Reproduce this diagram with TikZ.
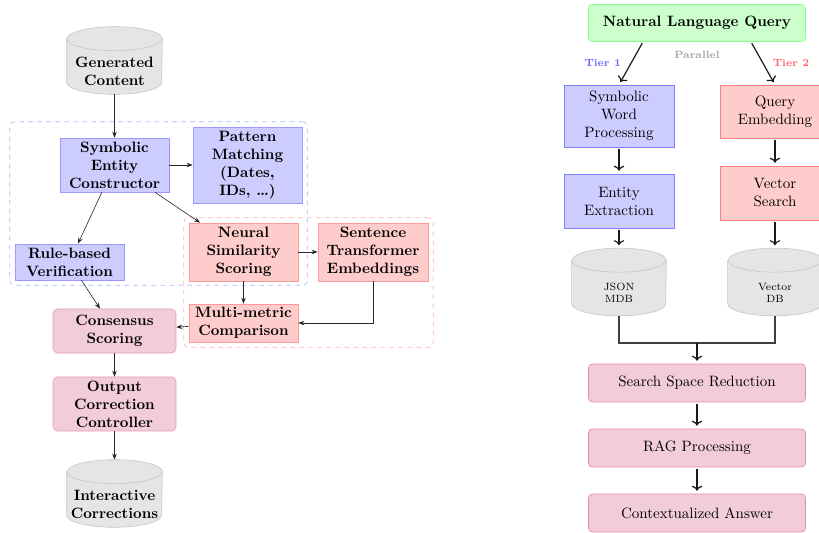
\documentclass[tikz,border=0pt]{standalone}
\usetikzlibrary{shapes.geometric,arrows.meta,fit}
\newcommand{\dbcyl}[5]{% name, position, half width, font, text, offset fixed via style
  \node[cylbox, minimum width=2*#3] (#1) at #2 {};
  \path[fill=gray!20, draw=gray!45]
    ([yshift=-8pt]#1.north west) -- ([yshift=8pt]#1.south west)
    arc[start angle=180, end angle=360, x radius=#3, y radius=8pt]
    -- ([yshift=-8pt]#1.north east)
    arc[start angle=0, end angle=180, x radius=#3, y radius=8pt] -- cycle;
  \draw[gray!45] ([yshift=-8pt]#1.north west)
    arc[start angle=180, end angle=360, x radius=#3, y radius=8pt];
  \node[font=#4, align=center, inner sep=0pt] (#1-t) at ([yshift=-7pt]#1.center) {#5};
}
\begin{document}
\begin{tikzpicture}[x=0.6667pt,y=-0.6667pt,
  lblue/.style={draw=blue!40, fill=blue!20, font=\bfseries, align=center, inner sep=0pt},
  lred/.style={draw=red!40, fill=red!20, font=\bfseries, align=center, inner sep=0pt},
  lpink/.style={draw=purple!40, fill=purple!20, rounded corners=3pt, font=\bfseries, align=center, inner sep=0pt},
  cylbox/.style={inner sep=0pt, minimum height=44.7pt},
  rblue/.style={draw=blue!50, fill=blue!20, align=center, inner sep=0pt, minimum width=73.3pt},
  rred/.style={draw=red!50, fill=red!20, align=center, inner sep=0pt, minimum width=73.3pt},
  rpink/.style={draw=purple!45, fill=purple!20, rounded corners=2.5pt, align=center, inner sep=0pt, minimum width=144.7pt, minimum height=25.3pt},
  arr/.style={-{Stealth[length=4pt,width=3pt]}, black!85},
  rarr/.style={->, thick, black!90, shorten <=1pt, shorten >=2pt},
  grp/.style={dashed, rounded corners=3pt, inner sep=3.3pt}
]
\useasboundingbox (0,0) rectangle (819,533);
% ---------------- left diagram ----------------
\dbcyl{gen}{(114.5,60.5)}{31.65pt}{\bfseries}{Generated\\Content}
\node[lblue, minimum width=72.7pt, minimum height=36pt] (sec) at (114.5,165) {Symbolic\\Entity\\Constructor};
\node[lblue, minimum width=72.7pt, minimum height=50.7pt] (pm) at (247.5,165) {Pattern\\Matching\\(Dates,\\IDs, \dots)};
\node[lblue, minimum width=72.7pt, minimum height=24pt] (rbv) at (69.5,262) {Rule-based\\Verification};
\node[lred, minimum width=72.7pt, minimum height=38.7pt] (nss) at (243.5,252) {Neural\\Similarity\\Scoring};
\node[lred, minimum width=73.3pt, minimum height=38.7pt] (ste) at (373,252) {Sentence\\Transformer\\Embeddings};
\node[lred, minimum width=72.7pt, minimum height=25.3pt] (mmc) at (243.5,323) {Multi-metric\\Comparison};
\node[lpink, minimum width=82pt, minimum height=29.3pt] (cs) at (114.5,331) {Consensus\\Scoring};
\node[lpink, minimum width=82pt, minimum height=36pt] (occ) at (114.5,404) {Output\\Correction\\Controller};
\dbcyl{ic}{(114.5,493.5)}{31.65pt}{\bfseries}{Interactive\\Corrections}
\node[grp, draw=blue!30, fit=(sec)(pm)(rbv)] (gblue) {};
\node[grp, draw=red!30, fit=(nss)(ste)(mmc)] (gred) {};
\draw[arr] (gen) -- (sec);
\draw[arr] (sec) -- (pm);
\draw[arr] (sec) -- (rbv);
\draw[arr] (sec) -- (nss);
\draw[arr] (nss) -- (ste);
\draw[arr] (nss) -- (mmc);
\draw[arr] (ste.south) |- (mmc.east);
\draw[arr] (rbv) -- (cs);
\draw[arr] (mmc) -- (cs);
\draw[arr] (cs) -- (occ);
\draw[arr] (occ) -- (ic);
% ---------------- right diagram ----------------
\node[draw=green!50, fill=green!20, rounded corners=2.5pt, font=\bfseries, minimum width=144.7pt, minimum height=24.7pt, inner sep=0pt] (nlq) at (697,23) {Natural Language Query};
\node[rblue, minimum height=41.3pt] (swp) at (619,116) {Symbolic\\Word\\Processing};
\node[rred, minimum height=35.3pt] (qe) at (775,111.5) {Query\\Embedding};
\node[rblue, minimum height=36pt] (ee) at (619,201) {Entity\\Extraction};
\node[rred, minimum height=36pt] (vs) at (775,193) {Vector\\Search};
\dbcyl{json}{(619,282)}{31.35pt}{\scriptsize}{JSON\\MDB}
\dbcyl{vdb}{(775,282)}{31.35pt}{\scriptsize}{Vector\\DB}
\node[rpink] (ssr) at (697,383) {Search Space Reduction};
\node[rpink] (rag) at (697,448) {RAG Processing};
\node[rpink] (ca) at (697,513) {Contextualized Answer};
\node[font=\scriptsize\bfseries, text=blue!60] (t1) at (602.7,63) {Tier 1};
\node[font=\scriptsize\bfseries, text=red!60] (t2) at (791,63) {Tier 2};
\node[font=\scriptsize\bfseries, text=gray!70] (par) at (697,55) {Parallel};
\draw[rarr] ([xshift=-36pt]nlq.south) -- (swp.north);
\draw[rarr] ([xshift=36pt]nlq.south) -- (qe.north);
\draw[rarr] (swp) -- (ee);
\draw[rarr] (qe) -- (vs);
\draw[rarr] (ee) -- (json);
\draw[rarr] (vs) -- (vdb);
\coordinate (m) at (697,343);
\draw[thick, black!75] (json.south) |- (m) -| (vdb.south);
\draw[rarr, shorten <=0pt] (m) -- (ssr);
\draw[rarr] (ssr) -- (rag);
\draw[rarr] (rag) -- (ca);
\end{tikzpicture}
\end{document}
